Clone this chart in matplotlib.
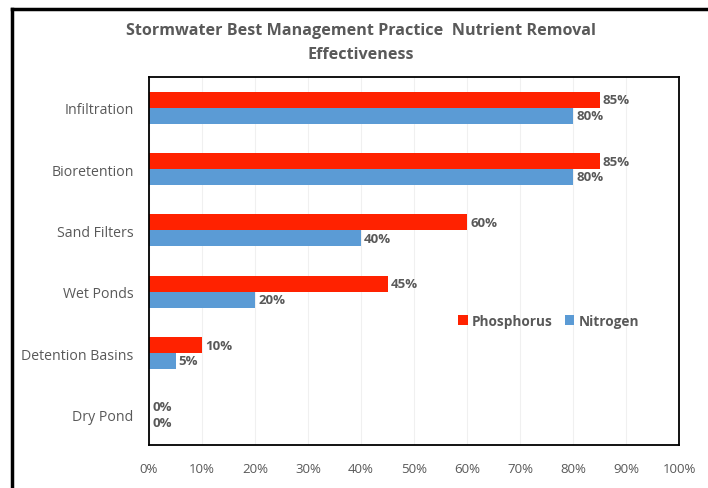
import matplotlib.pyplot as plt
from matplotlib.lines import Line2D
from matplotlib.ticker import PercentFormatter

# data (percent removal)
categories = ["Infiltration", "Bioretention", "Sand Filters", "Wet Ponds",
              "Detention Basins", "Dry Pond"]
phosphorus = [85, 85, 60, 45, 10, 0]
nitrogen = [80, 80, 40, 20, 5, 0]
xticks = [0, 10, 20, 30, 40, 50, 60, 70, 80, 90, 100]

plt.rcParams["font.family"] = ["Open Sans", "DejaVu Sans"]
text_col = "#595959"
red = "#FF2200"
blue = "#5B9BD5"

fig = plt.figure(figsize=(7.08, 4.89), dpi=100)
ax = fig.add_axes([149 / 708, 1 - 446 / 489, 530 / 708, 368 / 489])

n = len(categories)
ypos = list(range(n))
h = 0.26
ax.barh([y - h / 2 for y in ypos], phosphorus, height=h, color=red, label="Phosphorus")
ax.barh([y + h / 2 for y in ypos], nitrogen, height=h, color=blue, label="Nitrogen")

for y, p, nv in zip(ypos, phosphorus, nitrogen):
    ax.text(p + 0.6, y - h / 2, f"{p}%", va="center", ha="left",
            fontsize=9.5, fontweight="bold", color=text_col)
    ax.text(nv + 0.6, y + h / 2, f"{nv}%", va="center", ha="left",
            fontsize=9.5, fontweight="bold", color=text_col)

ax.set_ylim(n - 0.5, -0.5)
ax.set_yticks(ypos)
ax.set_yticklabels(categories, fontsize=10.2, color=text_col)
ax.set_xlim(0, 100)
ax.set_xticks(xticks)
ax.xaxis.set_major_formatter(PercentFormatter(decimals=0))
ax.tick_params(axis="x", labelsize=9.5, labelcolor=text_col, length=0, pad=12)
ax.tick_params(axis="y", length=0, pad=11)
ax.grid(axis="x", color="#f0f0f0", lw=0.8)
ax.set_axisbelow(True)
for s in ax.spines.values():
    s.set_color("black")
    s.set_linewidth(1.3)

ax.legend(loc="center left", bbox_to_anchor=(0.56, 0.337), ncol=2, frameon=False,
          handlelength=0.7, handleheight=0.7, handletextpad=0.3,
          columnspacing=0.9, labelcolor=text_col, prop={"weight": "bold", "size": 9.8})

fig.text(0.51, 1 - 31 / 489, "Stormwater Best Management Practice  Nutrient Removal",
         ha="center", va="center", fontsize=11.6, fontweight="bold", color=text_col)
fig.text(0.51, 1 - 55 / 489, "Effectiveness",
         ha="center", va="center", fontsize=11.6, fontweight="bold", color=text_col)

# outer frame (top and left lines)
fig.add_artist(Line2D([12 / 708, 12 / 708], [0, 1 - 10 / 489], color="black", lw=2.5,
                      transform=fig.transFigure))
fig.add_artist(Line2D([12 / 708, 1], [1 - 10 / 489, 1 - 10 / 489], color="black", lw=2.5,
                      transform=fig.transFigure))

fig.savefig("out.png", dpi=100)
